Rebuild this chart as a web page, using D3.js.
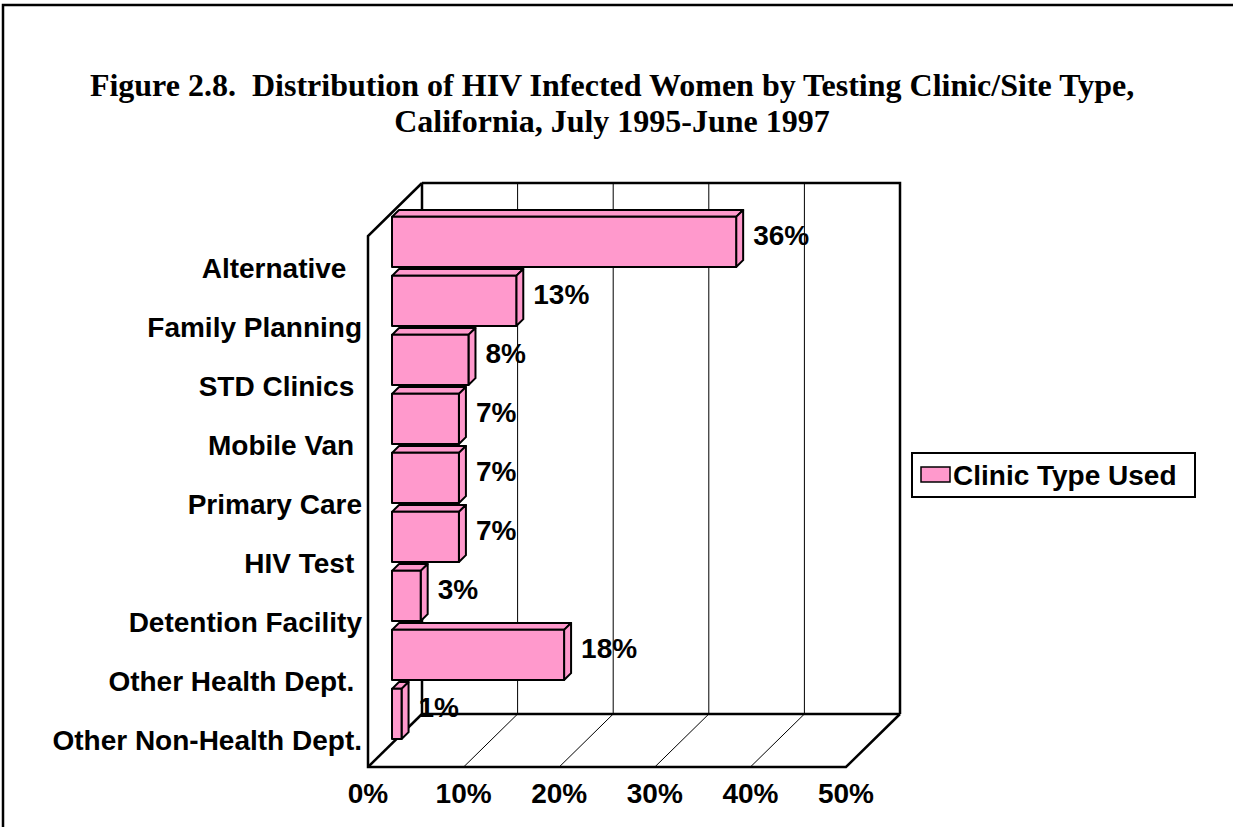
<!DOCTYPE html>
<html>
<head>
<meta charset="utf-8">
<script src="https://cdn.jsdelivr.net/npm/d3@7"></script>
<style>
  html, body { margin: 0; padding: 0; background: #fff; }
  svg text { white-space: pre; }
</style>
</head>
<body>
<div id="chart"></div>
<script>
const width = 1233;
const height = 827;

// data
const categories = ['Alternative  ', 'Family Planning', 'STD Clinics ', 'Mobile Van ', 'Primary Care',
  'HIV Test ', 'Detention Facility', 'Other Health Dept. ', 'Other Non-Health Dept.'];
const values = [36, 13, 8, 7, 7, 7, 3, 18, 1];
const tickValues = [0, 10, 20, 30, 40, 50];
const tickLabels = ['0%', '10%', '20%', '30%', '40%', '50%'];
const seriesName = 'Clinic Type Used';
const titleLines = ['Figure 2.8.  Distribution of HIV Infected Women by Testing Clinic/Site Type,',
  'California, July 1995-June 1997'];

const pink = '#ff99cc';
const sans = 'Arial, "Liberation Sans", sans-serif';
const serif = '"Times New Roman", "Liberation Serif", serif';

// back wall of the 3D box
const wallLeft = 422;
const wallTop = 183;
const wallBottom = 714;
// depth of the box (back -> front)
const depthX = -54;
const depthY = 53;

const x = d3.scaleLinear().domain([0, 50]).range([0, 478]);
const y = d3.scaleBand().domain(categories).range([wallTop, wallBottom])
  .paddingInner(0.15).paddingOuter(0.075);

// project (value, depth fraction, back-wall y) to screen
const pt = (v, f, yy) => [wallLeft + x(v) + depthX * f, yy + depthY * f];
const poly = pts => pts.map(p => p.join(',')).join(' ');

const svg = d3.select('#chart')
  .append('svg')
  .attr('width', width)
  .attr('height', height);

// outer frame (top and left edges visible)
svg.append('path')
  .attr('d', `M3,${height} L3,5 L${width},5`)
  .attr('fill', 'none')
  .attr('stroke', '#000')
  .attr('stroke-width', 2.5);

// Title
svg.append('g').selectAll('text')
  .data(titleLines)
  .enter()
  .append('text')
  .attr('x', 612)
  .attr('y', (d, i) => 96 + i * 36)
  .attr('text-anchor', 'middle')
  .style('font-family', serif)
  .style('font-weight', 'bold')
  .style('font-size', '32px')
  .text(d => d);

const box = svg.append('g');

// floor diagonals for inner gridlines
box.selectAll('.floor-grid')
  .data(tickValues.slice(1, -1))
  .enter()
  .append('line')
  .attr('x1', d => pt(d, 0, wallBottom)[0])
  .attr('y1', d => pt(d, 0, wallBottom)[1])
  .attr('x2', d => pt(d, 1, wallBottom)[0])
  .attr('y2', d => pt(d, 1, wallBottom)[1])
  .attr('stroke', '#000')
  .attr('stroke-width', 1);

// back wall vertical gridlines
box.selectAll('.wall-grid')
  .data(tickValues.slice(1, -1))
  .enter()
  .append('line')
  .attr('x1', d => wallLeft + x(d))
  .attr('x2', d => wallLeft + x(d))
  .attr('y1', wallTop)
  .attr('y2', wallBottom)
  .attr('stroke', '#000')
  .attr('stroke-width', 1);

// box outline: back wall, side wall, floor
const xMax = tickValues[tickValues.length - 1];
const outline = [
  [pt(0, 0, wallTop), pt(xMax, 0, wallTop), pt(xMax, 0, wallBottom)],
  [pt(0, 0, wallBottom), pt(xMax, 0, wallBottom)],
  [pt(0, 0, wallTop), pt(0, 0, wallBottom)],
  [pt(0, 0, wallTop), pt(0, 1, wallTop), pt(0, 1, wallBottom), pt(xMax, 1, wallBottom), pt(xMax, 0, wallBottom)],
  [pt(0, 0, wallBottom), pt(0, 1, wallBottom)]
];
box.selectAll('.outline')
  .data(outline)
  .enter()
  .append('path')
  .attr('d', d => 'M' + d.map(p => p.join(',')).join('L'))
  .attr('fill', 'none')
  .attr('stroke', '#000')
  .attr('stroke-width', 2.5)
  .attr('stroke-linejoin', 'miter');

// bars (front face depth fF, back face depth fB)
const fF = 30 / 54;
const fB = 23 / 54;
const data = categories.map((c, i) => ({ cat: c, value: values[i] }));

const bars = svg.append('g').selectAll('.bar')
  .data(data)
  .enter()
  .append('g')
  .attr('class', 'bar');

bars.append('polygon') // top
  .attr('points', d => {
    const t = y(d.cat);
    return poly([pt(0, fF, t), pt(d.value, fF, t), pt(d.value, fB, t), pt(0, fB, t)]);
  });
bars.append('polygon') // side
  .attr('points', d => {
    const t = y(d.cat), b = t + y.bandwidth();
    return poly([pt(d.value, fF, t), pt(d.value, fB, t), pt(d.value, fB, b), pt(d.value, fF, b)]);
  });
bars.append('polygon') // front
  .attr('points', d => {
    const t = y(d.cat), b = t + y.bandwidth();
    return poly([pt(0, fF, t), pt(d.value, fF, t), pt(d.value, fF, b), pt(0, fF, b)]);
  });
bars.selectAll('polygon')
  .attr('fill', pink)
  .attr('stroke', '#000')
  .attr('stroke-width', 2)
  .attr('stroke-linejoin', 'round');

// value labels
svg.append('g').selectAll('text')
  .data(data)
  .enter()
  .append('text')
  .attr('x', d => pt(d.value, fB, 0)[0] + 10)
  .attr('y', d => pt(d.value, fB, y(d.cat) + y.bandwidth() / 2)[1])
  .attr('dy', '0.35em')
  .style('font-family', sans)
  .style('font-weight', 'bold')
  .style('font-size', '28px')
  .text(d => d.value + '%');

// category labels (aligned to the front of the floor)
svg.append('g').selectAll('text')
  .data(categories)
  .enter()
  .append('text')
  .attr('x', 362)
  .attr('y', d => y(d) + y.step() / 2 + depthY - 2)
  .attr('dy', '0.35em')
  .attr('text-anchor', 'end')
  .style('font-family', sans)
  .style('font-weight', 'bold')
  .style('font-size', '28px')
  .text(d => d);

// x tick labels under the front floor edge
svg.append('g').selectAll('text')
  .data(tickValues)
  .enter()
  .append('text')
  .attr('x', d => pt(d, 1, wallBottom)[0])
  .attr('y', 803)
  .attr('text-anchor', 'middle')
  .style('font-family', sans)
  .style('font-weight', 'bold')
  .style('font-size', '28px')
  .text((d, i) => tickLabels[i]);

// Legend
const legend = svg.append('g').attr('transform', 'translate(912,453)');
legend.append('rect')
  .attr('width', 283)
  .attr('height', 44)
  .attr('fill', '#fff')
  .attr('stroke', '#000')
  .attr('stroke-width', 2);
legend.append('rect')
  .attr('x', 9)
  .attr('y', 14)
  .attr('width', 29)
  .attr('height', 15)
  .attr('fill', pink)
  .attr('stroke', '#000')
  .attr('stroke-width', 1.5);
legend.append('text')
  .attr('x', 41)
  .attr('y', 22)
  .attr('dy', '0.35em')
  .style('font-family', sans)
  .style('font-weight', 'bold')
  .style('font-size', '28px')
  .text(seriesName);
</script>
</body>
</html>
